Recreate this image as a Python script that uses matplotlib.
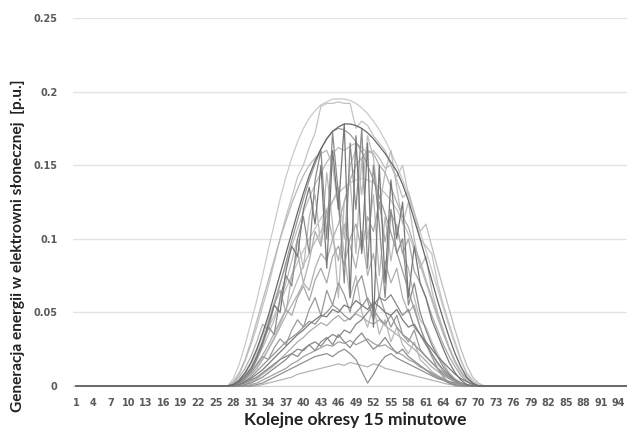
import numpy as np
import matplotlib
matplotlib.use("Agg")
import matplotlib.pyplot as plt

# 96 quarter-hour periods; each day below lists periods 26..71 (values in 1/1000 p.u.)
periods = np.arange(1, 97)
first_period = 26

day_a = [0, 0, 5, 15, 28, 43, 58, 75, 93, 110, 127, 142, 155, 166, 175, 182, 187, 191, 193, 195,
         195, 195, 194, 192, 189, 185, 180, 174, 167, 159, 150, 140, 129, 117, 105, 92, 79, 66, 53, 40,
         28, 17, 8, 3, 0, 0]
day_b = [0, 0, 2, 8, 17, 28, 40, 54, 68, 84, 100, 115, 128, 142, 150, 162, 172, 190, 192, 192,
         193, 192, 192, 175, 180, 177, 170, 165, 160, 150, 142, 150, 130, 118, 100, 95, 90, 70, 55, 42,
         30, 18, 9, 4, 1, 0]
day_c = [0, 0, 1, 4, 9, 16, 25, 36, 48, 62, 76, 90, 104, 118, 131, 143, 153, 161, 168, 173,
         176, 178, 178, 177, 175, 172, 168, 163, 158, 152, 146, 137, 126, 113, 100, 86, 72, 58, 45, 33,
         22, 13, 6, 2, 0, 0]
day_d = [0, 0, 0, 2, 6, 12, 20, 30, 42, 55, 69, 84, 99, 113, 127, 140, 151, 161, 168, 173,
         175, 174, 171, 166, 159, 150, 140, 129, 117, 104, 91, 78, 65, 52, 40, 29, 20, 12, 6, 2,
         0, 0, 0, 0, 0, 0]
day_e = [0, 0, 0, 3, 8, 15, 24, 34, 45, 57, 70, 82, 95, 107, 118, 128, 137, 145, 152, 158,
         162, 160, 163, 165, 162, 158, 160, 155, 148, 150, 140, 128, 132, 118, 105, 110, 95, 80, 66, 52,
         38, 25, 14, 6, 2, 0]
day_f = [0, 0, 1, 3, 7, 12, 20, 30, 42, 55, 50, 78, 95, 88, 120, 135, 110, 150, 80, 160,
         120, 178, 60, 170, 90, 165, 40, 150, 70, 140, 100, 125, 60, 95, 70, 60, 45, 35, 25, 16,
         9, 4, 1, 0, 0, 0]
day_g = [0, 0, 0, 2, 5, 10, 18, 28, 40, 35, 60, 75, 68, 100, 115, 90, 140, 160, 100, 172,
         130, 70, 165, 120, 175, 80, 150, 110, 60, 120, 90, 100, 55, 70, 50, 38, 28, 20, 13, 8,
         4, 2, 0, 0, 0, 0]
day_h = [0, 0, 1, 3, 6, 11, 18, 26, 35, 45, 58, 70, 85, 100, 80, 115, 130, 95, 145, 110,
         60, 125, 140, 90, 155, 100, 130, 75, 115, 85, 110, 90, 80, 60, 45, 40, 30, 22, 15, 9,
         5, 2, 0, 0, 0, 0]
day_i = [0, 0, 2, 6, 12, 20, 30, 42, 38, 55, 65, 50, 75, 90, 70, 85, 105, 95, 120, 100,
         85, 110, 95, 80, 105, 75, 90, 60, 85, 70, 80, 60, 50, 55, 40, 30, 22, 15, 10, 6,
         3, 1, 0, 0, 0, 0]
day_j = [0, 0, 0, 1, 3, 5, 8, 11, 15, 19, 23, 27, 31, 35, 38, 42, 45, 48, 47, 52,
         50, 55, 53, 58, 55, 52, 57, 54, 50, 48, 52, 45, 40, 42, 35, 30, 25, 20, 16, 12,
         8, 5, 3, 1, 0, 0]
day_k = [0, 0, 0, 0, 1, 3, 5, 8, 11, 14, 18, 22, 26, 30, 33, 37, 40, 43, 41, 45,
         48, 44, 46, 49, 47, 44, 42, 45, 41, 38, 35, 32, 28, 25, 21, 17, 13, 10, 7, 5,
         3, 1, 0, 0, 0, 0]
day_l = [0, 0, 0, 0, 0, 1, 2, 4, 6, 8, 10, 12, 15, 17, 20, 22, 24, 26, 28, 27,
         30, 29, 31, 28, 30, 32, 29, 27, 28, 25, 23, 21, 18, 16, 13, 11, 9, 7, 5, 3,
         2, 1, 0, 0, 0, 0]
day_m = [0, 0, 0, 0, 0, 0, 1, 2, 4, 6, 8, 10, 12, 14, 16, 18, 20, 21, 22, 20,
         23, 25, 22, 18, 10, 2, 8, 15, 20, 22, 19, 17, 15, 13, 11, 9, 7, 5, 4, 3,
         2, 1, 0, 0, 0, 0]
day_n = [0, 0, 0, 0, 0, 0, 0, 1, 2, 3, 4, 5, 6, 8, 9, 10, 11, 12, 13, 14,
         15, 14, 16, 15, 14, 13, 15, 14, 12, 11, 10, 9, 8, 7, 6, 5, 4, 3, 2, 1,
         1, 0, 0, 0, 0, 0]
day_o = [0, 0, 0, 1, 2, 4, 6, 9, 12, 15, 18, 20, 22, 25, 24, 28, 30, 27, 32, 35,
         33, 38, 36, 42, 45, 50, 55, 60, 58, 62, 55, 48, 52, 40, 35, 28, 22, 16, 11, 7,
         4, 2, 1, 0, 0, 0]
day_p = [0, 0, 0, 2, 4, 8, 12, 18, 25, 32, 40, 48, 55, 62, 70, 65, 80, 90, 85, 100,
         110, 125, 140, 150, 155, 160, 158, 150, 145, 135, 125, 115, 108, 95, 85, 72, 60, 48, 36, 26,
         17, 10, 5, 2, 0, 0]
day_q = [0, 0, 3, 9, 18, 30, 44, 58, 72, 86, 100, 112, 124, 134, 143, 150, 155, 158, 160, 150,
         120, 90, 60, 75, 50, 40, 55, 35, 45, 30, 40, 28, 22, 30, 18, 14, 10, 7, 4, 2,
         1, 0, 0, 0, 0, 0]
day_r = [0, 0, 0, 1, 3, 6, 10, 14, 18, 22, 26, 30, 33, 36, 40, 44, 42, 47, 50, 55,
         52, 48, 45, 50, 54, 60, 52, 46, 42, 48, 40, 35, 32, 28, 24, 20, 16, 12, 9, 6,
         4, 2, 1, 0, 0, 0]
day_s = [0, 0, 1, 4, 9, 15, 22, 30, 39, 48, 57, 66, 75, 84, 92, 100, 107, 114, 120, 126,
         131, 135, 138, 140, 141, 140, 138, 135, 131, 126, 120, 112, 103, 93, 82, 70, 58, 46, 35, 25,
         16, 9, 4, 1, 0, 0]
day_t = [0, 0, 0, 2, 5, 9, 14, 20, 18, 26, 32, 28, 38, 45, 40, 52, 60, 48, 65, 55,
         70, 62, 50, 68, 75, 58, 45, 62, 50, 40, 48, 35, 30, 38, 25, 20, 16, 12, 8, 5,
         3, 1, 0, 0, 0, 0]
day_u = [0, 0, 0, 1, 3, 7, 12, 18, 25, 33, 42, 52, 62, 72, 82, 90, 98, 105, 115, 125,
         135, 100, 150, 160, 130, 170, 155, 120, 145, 160, 135, 110, 125, 100, 80, 88, 65, 50, 38, 26,
         16, 9, 4, 1, 0, 0]
day_v = [0, 0, 0, 0, 1, 2, 4, 6, 9, 12, 15, 18, 22, 20, 25, 28, 24, 30, 33, 28,
         35, 30, 26, 32, 36, 30, 25, 28, 33, 27, 22, 25, 20, 17, 14, 11, 8, 6, 4, 2,
         1, 0, 0, 0, 0, 0]
day_w = [0, 0, 1, 3, 6, 10, 15, 21, 28, 36, 44, 52, 48, 60, 68, 58, 72, 80, 70, 88,
         95, 82, 100, 110, 92, 115, 105, 125, 98, 118, 108, 90, 100, 78, 70, 60, 48, 38, 28, 20,
         13, 7, 3, 1, 0, 0]

days = [day_a, day_b, day_e, day_h, day_s, day_u, day_i, day_k, day_n, day_p, day_q, day_w,
        day_d, day_l, day_m, day_t, day_r, day_v, day_o, day_g, day_j, day_f, day_c]
grays = ["#cacaca", "#c2c2c2", "#bdbdbd", "#bababa", "#c4c4c4", "#bcbcbc", "#b0b0b0", "#ababab",
         "#b5b5b5", "#b0b0b0", "#b8b8b8", "#a8a8a8", "#9a9a9a", "#a0a0a0", "#909090", "#999999",
         "#959595", "#8c8c8c", "#888888", "#8a8a8a", "#7a7a7a", "#777777", "#666666"]

fig = plt.figure(figsize=(6.27, 4.28), dpi=100)
ax = fig.add_axes([73 / 627, 42 / 428, 560 / 627, 368 / 428])

for vals, col in zip(days, grays):
    y = np.zeros(96)
    y[first_period - 1:first_period - 1 + len(vals)] = np.array(vals) / 1000
    ax.plot(periods, y, color=col, lw=0.9, clip_on=False, zorder=3)

ax.set_xlim(0.5, 96.5)
ax.set_ylim(0, 0.25)
yt = [0, 0.05, 0.1, 0.15, 0.2, 0.25]
ax.set_yticks(yt)
ax.set_yticklabels(["0", "0.05", "0.1", "0.15", "0.2", "0.25"])
xt = list(range(1, 97, 3))
ax.set_xticks(xt)
ax.set_xticklabels([str(v) for v in xt])
ax.grid(axis="y", color="#e3e3e3", lw=1.0)
ax.set_axisbelow(True)
for s in ["top", "right", "left"]:
    ax.spines[s].set_visible(False)
ax.spines["bottom"].set_color("#d0d0d0")
ax.tick_params(length=0, labelsize=7, labelcolor="#5a5a5a")
ax.tick_params(axis="y", pad=11)
ax.tick_params(axis="x", pad=9)
for lab in ax.get_xticklabels() + ax.get_yticklabels():
    lab.set_fontweight("bold")
    lab.set_family("DejaVu Sans")

fig.text(355 / 627, 1 - 425 / 428, "Kolejne okresy 15 minutowe", ha="center", va="baseline",
         fontsize=12.5, fontweight="bold", family="Lato", color="#222222")
fig.text(18 / 627, 1 - 246 / 428, "Generacja energii w elektrowni słonecznej  [p.u.]", rotation=90,
         ha="center", va="center", fontsize=11.1, fontweight="bold", family="Lato", color="#222222")

fig.savefig("out.png", dpi=100)
